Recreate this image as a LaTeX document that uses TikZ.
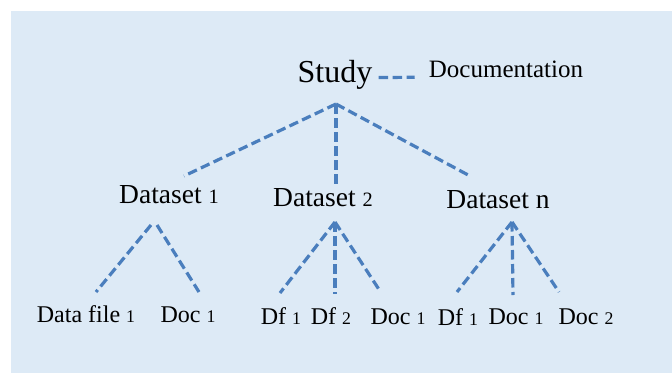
\documentclass[tikz,border=0pt]{standalone}
\usepackage{fontspec}
\setmainfont{Liberation Serif}
\usetikzlibrary{positioning,calc}

\definecolor{panelblue}{RGB}{221,234,246}
\definecolor{linkblue}{RGB}{74,126,189}

% small digits on the baseline
\newcommand{\dg}[1]{\scalebox{0.74}{#1}}

\tikzset{
  link/.style={draw=linkblue, line width=3.2pt, dash pattern=on 9.5pt off 4.5pt},
  studylabel/.style={anchor=base, inner sep=0pt, font=\fontsize{32}{36}\selectfont},
  doclabel/.style={anchor=base, inner sep=0pt, font=\fontsize{25}{28}\selectfont},
  setlabel/.style={anchor=base, inner sep=0pt, font=\fontsize{27.5}{30}\selectfont},
  leaflabel/.style={anchor=base, inner sep=0pt, font=\fontsize{24}{27}\selectfont},
}

\begin{document}
\begin{tikzpicture}[x=1pt,y=-1pt]
      \useasboundingbox (0,0) rectangle (672,373);
      % panel
      \fill[white] (0,0) rectangle (672,373);
      \fill[panelblue] (11,11) rectangle (672,373);

      % nodes

      %top
      \node[studylabel] (study) at (335,82.5) {Study};
      \node[doclabel] (documentation) at (506,77.3) {Documentation};

      %datasets
      \node[setlabel] (dataset_one) at (169,203) {Dataset \dg{1}};
      \node[setlabel] (dataset_two) at (323,206) {Dataset \dg{2}};
      \node[setlabel] (dataset_n) at (498,208) {Dataset n};

      %files
      \node[leaflabel] (data_file_one) at (86,322) {Data file \dg{1}};
      \node[leaflabel] (doc_one_a) at (188,322.5) {Doc \dg{1}};
      \node[leaflabel] (df_one_b) at (281,324) {Df \dg{1}};
      \node[leaflabel] (df_two_b) at (331,324) {Df \dg{2}};
      \node[leaflabel] (doc_one_b) at (398,324) {Doc \dg{1}};
      \node[leaflabel] (df_one_n) at (458,325) {Df \dg{1}};
      \node[leaflabel] (doc_one_n) at (516,324) {Doc \dg{1}};
      \node[leaflabel] (doc_two_n) at (586,324) {Doc \dg{2}};

      % edges
      \draw[link] ([xshift=6pt,yshift=5pt]study.base east) -- ([xshift=-14pt]documentation.base west);

      \draw[link] ([xshift=1pt,yshift=-21.5pt]study.base) -- ([xshift=15pt,yshift=27pt]dataset_one.base);
      \draw[link] ([xshift=1pt,yshift=-21.5pt]study.base) -- ([xshift=13pt,yshift=19pt]dataset_two.base);
      \draw[link] ([xshift=1pt,yshift=-21.5pt]study.base) -- ([xshift=-28pt,yshift=32pt]dataset_n.base);

      \draw[link] ([xshift=-18pt,yshift=-22pt]dataset_one.base) -- ([xshift=10pt,yshift=30pt]data_file_one.base);
      \draw[link] ([xshift=-12pt,yshift=-22pt]dataset_one.base) -- ([xshift=11pt,yshift=30.5pt]doc_one_a.base);

      \draw[link] ([xshift=12pt,yshift=-16pt]dataset_two.base) -- ([xshift=-1pt,yshift=31pt]df_one_b.base);
      \draw[link] ([xshift=12pt,yshift=-16pt]dataset_two.base) -- ([xshift=4pt,yshift=30pt]df_two_b.base);
      \draw[link] ([xshift=12pt,yshift=-16pt]dataset_two.base) -- ([xshift=-18pt,yshift=33pt]doc_one_b.base);

      \draw[link] ([xshift=14pt,yshift=-14pt]dataset_n.base) -- ([xshift=-1pt,yshift=33pt]df_one_n.base);
      \draw[link] ([xshift=14pt,yshift=-14pt]dataset_n.base) -- ([xshift=-3pt,yshift=29pt]doc_one_n.base);
      \draw[link] ([xshift=14pt,yshift=-14pt]dataset_n.base) -- ([xshift=-27pt,yshift=32pt]doc_two_n.base);

\end{tikzpicture}
\end{document}
